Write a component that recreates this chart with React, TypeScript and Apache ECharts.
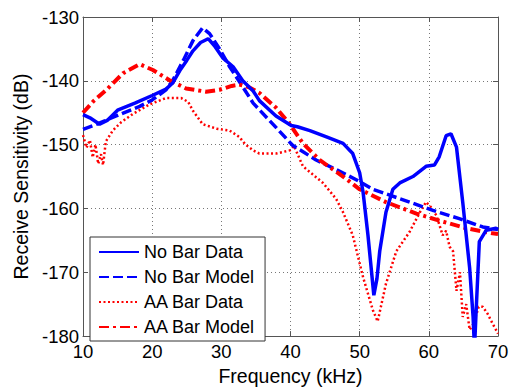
import React, { useEffect, useRef } from "react";
import * as echarts from "echarts";

const seriesNames = ["No Bar Data", "No Bar Model", "AA Bar Data", "AA Bar Model"];

const noBarDataFreq = [10, 11, 12.4, 13.5, 15, 17.5, 20, 22, 23, 24, 25, 25.9, 27, 28.1, 29, 30.2, 31.7, 33.1, 34.6, 35.5, 37.9, 40.1, 41, 42.8, 45.2, 47.6, 49, 50, 50.5, 51.2, 52.05, 52.5, 52.9, 53.8, 54.8, 55.8, 57.7, 59.6, 60.8, 61.5, 62.5, 63.2, 64, 64.9, 65.9, 66.4, 66.6, 66.8, 67.3, 68.3, 69.7, 70];
const noBarDataDb = [-145.3, -145.8, -146.8, -146.2, -144.6, -143.5, -142.3, -141.3, -140.3, -138.4, -136.8, -135.3, -134, -133.4, -134.5, -136.4, -137.8, -140, -141.6, -143.1, -145.5, -147, -147.2, -147.8, -148.8, -149.8, -151.4, -154.4, -157.5, -164.2, -173.6, -171, -166.7, -160.6, -157, -156, -155, -153.4, -153.2, -151.9, -148.6, -148.3, -150.4, -159, -169.3, -177, -182, -177, -165.2, -163.4, -163.1, -163.3];

const noBarModelFreq = [10, 12, 14.8, 18.2, 20, 22, 23, 24.5, 25.9, 27.3, 28.3, 29.75, 31.2, 32.6, 34.6, 37.9, 40.3, 43.7, 46.6, 49.5, 51.9, 56.7, 60.6, 64.4, 67.8, 70];
const noBarModelDb = [-147.6, -146.8, -145.5, -144, -143, -141.4, -139.9, -136.8, -133.7, -131.7, -132.6, -135, -137.8, -140.1, -143.5, -147.3, -150.1, -152.4, -153.9, -155.5, -157, -158.8, -160.3, -161.6, -162.9, -163.3];

const aaBarDataFreq = [10, 10.5, 11, 11.4, 11.8, 12.2, 12.6, 12.9, 13.3, 14.3, 15.5, 17.2, 19.6, 22, 24.2, 25.2, 25.9, 27.3, 29.3, 31.2, 32.6, 33.5, 34.6, 35.5, 37.9, 39.9, 40.5, 41.8, 44.7, 46.6, 47.6, 49, 50.5, 51.9, 52.6, 53.8, 55.3, 57.2, 58.7, 59.6, 60.3, 61.1, 62, 62.5, 63, 63.5, 64, 64.5, 64.9, 65.4, 65.9, 66.5, 67.2, 67.8, 68.5, 69.2, 70];
const aaBarDataDb = [-148.5, -150.5, -149.3, -152, -150, -153, -151.5, -153.2, -149.5, -147.8, -146.5, -145.2, -143.7, -142.7, -142.7, -143.3, -144.7, -146.8, -147.5, -147.8, -148.8, -150, -150.9, -151.4, -151.4, -150.9, -150.2, -153.4, -156, -158.5, -160.6, -164.2, -170.8, -175.9, -177.7, -171.8, -166.7, -163.7, -160.6, -159, -159.8, -161.1, -164.2, -163.5, -166, -166.7, -172.9, -170, -177, -175, -179, -178, -175.4, -175.4, -176.5, -178, -179.6];

const aaBarModelFreq = [10, 11.5, 13.4, 15.8, 18.2, 20.1, 22.5, 24.9, 27.8, 29.75, 31.5, 32.6, 34, 35.5, 37.9, 39.9, 41.8, 44.2, 47.6, 50, 53.8, 58.2, 61.5, 65.4, 69.2, 70];
const aaBarModelDb = [-145, -143.2, -141.4, -138.8, -137.4, -138.3, -139.9, -141.2, -141.7, -141.4, -140.8, -140.6, -141, -141.9, -144.2, -146.8, -149.8, -152.4, -155, -157, -159, -160.8, -161.9, -163.1, -163.9, -164];

const xMin = 10, xMax = 70, xStep = 10;
const yMin = -180, yMax = -130, yStep = 10;

const FONT = "'Liberation Sans', Arial, Helvetica, sans-serif";

const zip = (xs: number[], ys: number[]) => xs.map((x, i) => [x, ys[i]]);

export default function App() {
  const ref = useRef<HTMLDivElement>(null);
  useEffect(() => {
    const chart = echarts.init(ref.current!, null, { renderer: "svg" });
    const gridLine = { show: true, lineStyle: { color: "#777", type: [1, 3] as any, width: 1 } };
    const boxLine = { show: true, lineStyle: { color: "#555", width: 1 } };
    const option: any = {
      animation: false,
      backgroundColor: "#fff",
      textStyle: { fontFamily: FONT },
      grid: { left: 83, right: 15, top: 17, bottom: 48, show: false },
      legend: {
        show: true,
        orient: "vertical",
        left: 90,
        top: 237,
        data: seriesNames,
        itemWidth: 40,
        itemHeight: 14,
        itemGap: 7,
        padding: [6, 10, 5, 8],
        borderColor: "#333",
        borderWidth: 1,
        backgroundColor: "#fff",
        itemStyle: { opacity: 0 },
        textStyle: { fontSize: 18, color: "#000", fontFamily: FONT, lineHeight: 18 },
      },
      xAxis: [
        {
          type: "value", min: xMin, max: xMax, interval: xStep, position: "bottom",
          name: "Frequency (kHz)", nameLocation: "middle", nameGap: 27,
          nameTextStyle: { fontSize: 19.5, color: "#000", fontFamily: FONT },
          axisLine: { ...boxLine, onZero: false },
          axisTick: { show: true, inside: true, length: 5, lineStyle: { color: "#555" } },
          axisLabel: { fontSize: 18.5, color: "#000", margin: 6, fontFamily: FONT },
          splitLine: gridLine,
        },
        {
          type: "value", min: xMin, max: xMax, interval: xStep, position: "top",
          axisLine: { ...boxLine, onZero: false },
          axisTick: { show: true, inside: true, length: 5, lineStyle: { color: "#555" } },
          axisLabel: { show: false },
          splitLine: { show: false },
        },
      ],
      yAxis: [
        {
          type: "value", min: yMin, max: yMax, interval: yStep, position: "left",
          name: "Receive Sensitivity (dB)", nameLocation: "middle", nameGap: 50,
          nameTextStyle: { fontSize: 19.5, color: "#000", fontFamily: FONT },
          axisLine: { ...boxLine, onZero: false },
          axisTick: { show: true, inside: true, length: 5, lineStyle: { color: "#555" } },
          axisLabel: { fontSize: 18.5, color: "#000", margin: 4, fontFamily: FONT },
          splitLine: gridLine,
        },
        {
          type: "value", min: yMin, max: yMax, interval: yStep, position: "right",
          axisLine: { ...boxLine, onZero: false },
          axisTick: { show: true, inside: true, length: 5, lineStyle: { color: "#555" } },
          axisLabel: { show: false },
          splitLine: { show: false },
        },
      ],
      series: [
        {
          name: seriesNames[0], type: "line", symbol: "none", clip: true, z: 4,
          data: zip(noBarDataFreq, noBarDataDb),
          lineStyle: { color: "#0000ff", width: 3.5, type: "solid" },
          itemStyle: { color: "#0000ff" },
        },
        {
          name: seriesNames[1], type: "line", symbol: "none", clip: true, z: 3,
          data: zip(noBarModelFreq, noBarModelDb),
          lineStyle: { color: "#0000ff", width: 3.5, type: [10, 4], cap: "butt" },
          itemStyle: { color: "#0000ff" },
        },
        {
          name: seriesNames[2], type: "line", symbol: "none", clip: true, z: 2,
          data: zip(aaBarDataFreq, aaBarDataDb),
          lineStyle: { color: "#ff0000", width: 2.5, type: [2, 2.5], cap: "butt" },
          itemStyle: { color: "#ff0000" },
        },
        {
          name: seriesNames[3], type: "line", symbol: "none", clip: true, z: 3,
          data: zip(aaBarModelFreq, aaBarModelDb),
          lineStyle: { color: "#ff0000", width: 4, type: [10, 4, 3, 4], cap: "butt" },
          itemStyle: { color: "#ff0000" },
        },
      ],
    };
    chart.setOption(option);
    return () => chart.dispose();
  }, []);
  return (
    <div
      ref={ref}
      style={{ position: "fixed", left: 0, top: 0, width: 513, height: 391, background: "#fff" }}
    />
  );
}
